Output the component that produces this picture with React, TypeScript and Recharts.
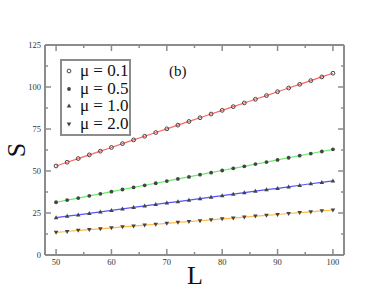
import React from 'react';
import { LineChart, Line, XAxis, YAxis } from 'recharts';

const L = [50, 52, 54, 56, 58, 60, 62, 64, 66, 68, 70, 72, 74, 76, 78, 80, 82, 84, 86, 88, 90, 92, 94, 96, 98, 100];
const S01 = [53.0, 55.2, 57.4, 59.6, 61.8, 64.0, 66.3, 68.5, 70.7, 72.9, 75.1, 77.3, 79.5, 81.7, 83.9, 86.1, 88.3, 90.5, 92.7, 94.9, 97.2, 99.4, 101.6, 103.8, 106.0, 108.2];
const S05 = [31.4, 32.7, 33.9, 35.2, 36.4, 37.7, 39.0, 40.2, 41.5, 42.7, 44.0, 45.3, 46.5, 47.8, 49.0, 50.3, 51.6, 52.8, 54.1, 55.3, 56.6, 57.9, 59.1, 60.4, 61.6, 62.9];
const S10 = [22.2, 23.1, 23.9, 24.8, 25.7, 26.6, 27.5, 28.3, 29.2, 30.1, 31.0, 31.8, 32.7, 33.6, 34.5, 35.3, 36.2, 37.1, 38.0, 38.9, 39.7, 40.6, 41.5, 42.4, 43.2, 44.1];
const S20 = [13.5, 14.0, 14.6, 15.1, 15.6, 16.2, 16.7, 17.2, 17.8, 18.3, 18.8, 19.4, 19.9, 20.4, 20.9, 21.5, 22.0, 22.5, 23.1, 23.6, 24.1, 24.7, 25.2, 25.7, 26.3, 26.8];
const SERIES_LABELS = ['μ = 0.1', 'μ = 0.5', 'μ = 1.0', 'μ = 2.0'];
const X_TICKS = [50, 55, 60, 65, 70, 75, 80, 85, 90, 95, 100];
const Y_TICKS = [0, 12.5, 25, 37.5, 50, 62.5, 75, 87.5, 100, 112.5, 125];

const data = L.map((l, i) => ({ L: l, a: S01[i], b: S05[i], c: S10[i], d: S20[i] }));

const AX = '#8c8c8c';
const MK = '#444';
const SERIF = 'Liberation Serif, Times New Roman, serif';
const COLORS = ['#ff6464', '#66ee66', '#5555ff', '#ffbb44'];
const KINDS = ['circle', 'dot', 'up', 'down'];

function marker(kind: string, cx: number, cy: number, key?: any) {
  if (kind === 'circle') return <circle key={key} cx={cx} cy={cy} r={1.9} fill="none" stroke={MK} strokeWidth={1} />;
  if (kind === 'dot') return <circle key={key} cx={cx} cy={cy} r={1.9} fill={MK} />;
  if (kind === 'up') return <path key={key} d={`M${cx},${cy - 2.4}L${cx + 2.3},${cy + 1.6}L${cx - 2.3},${cy + 1.6}Z`} fill={MK} />;
  return <path key={key} d={`M${cx},${cy + 2.4}L${cx + 2.3},${cy - 1.6}L${cx - 2.3},${cy - 1.6}Z`} fill={MK} />;
}

const dotFn = (kind: string) => (p: any) => marker(kind, p.cx, p.cy, p.index);

const LeftTick = (p: any) => {
  const v = p.payload.value;
  const major = v % 25 === 0;
  return (
    <g>
      <line x1={p.x} x2={p.x + (major ? 6 : 3)} y1={p.y} y2={p.y} stroke={AX} strokeWidth={1.5} />
      {major && (
        <text x={p.x - 4} y={p.y} dy={3} textAnchor="end" fontSize={8.5} fill="#333" fontFamily={SERIF}>{v}</text>
      )}
    </g>
  );
};
const RightTick = (p: any) => {
  const v = p.payload.value;
  const major = v % 25 === 0;
  return <line x1={p.x} x2={p.x - (major ? 6 : 3)} y1={p.y} y2={p.y} stroke={AX} strokeWidth={1.5} />;
};
const BottomTick = (p: any) => {
  const v = p.payload.value;
  const major = v % 10 === 0;
  return (
    <g>
      <line x1={p.x} x2={p.x} y1={p.y} y2={p.y - (major ? 6 : 3)} stroke={AX} strokeWidth={1.5} />
      {major && (
        <text x={p.x} y={p.y + 10} textAnchor="middle" fontSize={8.5} fill="#333" fontFamily={SERIF}>{v}</text>
      )}
    </g>
  );
};
const TopTick = (p: any) => {
  const v = p.payload.value;
  const major = v % 10 === 0;
  return <line x1={p.x} x2={p.x} y1={p.y} y2={p.y + (major ? 6 : 3)} stroke={AX} strokeWidth={1.5} />;
};

export default function App() {
  const keys = ['a', 'b', 'c', 'd'];
  return (
    <div style={{ position: 'absolute', left: 0, top: 0, width: 388, height: 300, background: '#fff' }}>
      <LineChart width={388} height={300} data={data} margin={{ top: 44, right: 43, left: 44, bottom: 44 }}>
        <XAxis xAxisId="b" dataKey="L" type="number" domain={[48, 102]} ticks={X_TICKS} interval={0} height={1}
          tickSize={0} tickMargin={0} tick={BottomTick} axisLine={{ stroke: AX, strokeWidth: 2 }} tickLine={false} allowDataOverflow />
        <XAxis xAxisId="t" orientation="top" dataKey="L" type="number" domain={[48, 102]} ticks={X_TICKS} interval={0} height={1}
          tickSize={0} tickMargin={0} tick={TopTick} axisLine={{ stroke: AX, strokeWidth: 2 }} tickLine={false} allowDataOverflow />
        <YAxis yAxisId="l" type="number" domain={[0, 125]} ticks={Y_TICKS} interval={0} width={1}
          tickSize={0} tickMargin={0} tick={LeftTick} axisLine={{ stroke: AX, strokeWidth: 2 }} tickLine={false} allowDataOverflow />
        <YAxis yAxisId="r" orientation="right" type="number" domain={[0, 125]} ticks={Y_TICKS} interval={0} width={1}
          tickSize={0} tickMargin={0} tick={RightTick} axisLine={{ stroke: AX, strokeWidth: 2 }} tickLine={false} allowDataOverflow />
        {keys.map((k, i) => (
          <Line key={k} xAxisId="b" yAxisId="l" dataKey={k} stroke={COLORS[i]} strokeWidth={1.2}
            dot={dotFn(KINDS[i])} activeDot={false} isAnimationActive={false} />
        ))}
        <Line xAxisId="t" yAxisId="r" dataKey="a" stroke="none" dot={false} activeDot={false} legendType="none" isAnimationActive={false} />
      </LineChart>
      <div style={{ position: 'absolute', left: 60, top: 59, width: 71, height: 77, boxSizing: 'border-box', border: `2px solid ${AX}`, background: '#fff' }}>
        {SERIES_LABELS.map((lab, i) => (
          <div key={lab} style={{ position: 'absolute', left: 0, top: 1 + i * 17.5, height: 17, width: 68, display: 'flex', alignItems: 'center' }}>
            <svg width={18} height={17} style={{ display: 'block', flex: 'none' }}>{marker(KINDS[i], 7, 9)}</svg>
            <span style={{ fontFamily: SERIF, fontSize: 17, color: '#111', whiteSpace: 'nowrap', lineHeight: '17px' }}>{lab}</span>
          </div>
        ))}
      </div>
      <div style={{ position: 'absolute', left: 169, top: 62, fontFamily: SERIF, fontSize: 15, color: '#111', lineHeight: '18px' }}>(b)</div>
      <div style={{ position: 'absolute', left: 4, top: 136, width: 26, height: 28, textAlign: 'center', fontFamily: SERIF, fontSize: 26, lineHeight: '28px', color: '#111', transform: 'rotate(-90deg)' }}>S</div>
      <div style={{ position: 'absolute', left: 182, top: 262, width: 26, height: 28, textAlign: 'center', fontFamily: SERIF, fontSize: 26, lineHeight: '28px', color: '#111' }}>L</div>
    </div>
  );
}
